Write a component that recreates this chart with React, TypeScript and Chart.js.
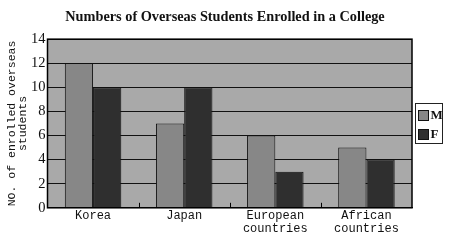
import React, { useEffect, useRef } from "react";
import { Chart, registerables } from "chart.js";

Chart.register(...registerables);

const categories: (string | string[])[] = ["Korea", "Japan", ["European", "countries"], ["African", "countries"]];
const maleValues = [12, 7, 6, 5];
const femaleValues = [10, 10, 3, 4];
const seriesNames = ["M", "F"];
const seriesColors = ["#878787", "#2f2f2f"];
const titleText = "Numbers of Overseas Students Enrolled in a College";
const yTitle = ["NO. of enrolled overseas", "students"];

const decorPlugin = {
  id: "decor",
  beforeDraw(chart: any) {
    const { ctx, chartArea } = chart;
    if (!chartArea) return;
    ctx.save();
    ctx.fillStyle = "#a9a9a9";
    ctx.fillRect(chartArea.left, chartArea.top, chartArea.right - chartArea.left, chartArea.bottom - chartArea.top);
    ctx.restore();
  },
  afterDraw(chart: any) {
    const { ctx, chartArea, scales } = chart;
    ctx.save();
    ctx.strokeStyle = "#000";
    ctx.lineWidth = 1.5;
    ctx.strokeRect(chartArea.left, chartArea.top, chartArea.right - chartArea.left, chartArea.bottom - chartArea.top);
    // small boundary tick marks on x axis
    const xs = scales.x;
    ctx.lineWidth = 1;
    for (let i = 0; i < categories.length - 1; i++) {
      const px = Math.round((xs.getPixelForValue(i) + xs.getPixelForValue(i + 1)) / 2) + 0.5;
      ctx.beginPath();
      ctx.moveTo(px, chartArea.bottom);
      ctx.lineTo(px, chartArea.bottom - 5);
      ctx.stroke();
    }
    // legend box
    const cy = (chartArea.top + chartArea.bottom) / 2;
    const bx = Math.round(chartArea.right + 3) + 0.5;
    const by = Math.round(cy - 20) + 0.5;
    ctx.strokeStyle = "#222";
    ctx.strokeRect(bx, by, 27, 40);
    ctx.font = "bold 13px 'Liberation Serif'";
    ctx.textBaseline = "middle";
    ctx.textAlign = "left";
    chart.data.datasets.forEach((ds: any, i: number) => {
      const sy = by + 7 + i * 19;
      ctx.fillStyle = ds.backgroundColor;
      ctx.fillRect(bx + 3, sy, 10, 10);
      ctx.strokeStyle = "#111";
      ctx.strokeRect(bx + 3, sy, 10, 10);
      ctx.fillStyle = "#111";
      ctx.fillText(ds.label, bx + 15, sy + 5.5);
    });
    ctx.restore();
  },
};

export default function App() {
  const ref = useRef<HTMLCanvasElement>(null);
  useEffect(() => {
    document.body.style.margin = "0";
    const chart = new Chart(ref.current!, {
      type: "bar",
      data: {
        labels: categories,
        datasets: [
          {
            label: seriesNames[0],
            data: maleValues,
            backgroundColor: seriesColors[0],
            borderColor: "#111",
            borderWidth: 1,
            categoryPercentage: 0.62,
            barPercentage: 1,
          },
          {
            label: seriesNames[1],
            data: femaleValues,
            backgroundColor: seriesColors[1],
            borderColor: "#111",
            borderWidth: 1,
            categoryPercentage: 0.62,
            barPercentage: 1,
          },
        ],
      },
      options: {
        responsive: false,
        animation: false,
        layout: { padding: { left: 6, right: 5, top: 0, bottom: 6 } },
        plugins: {
          title: {
            display: true,
            text: titleText,
            color: "#111",
            font: { family: "Liberation Serif", size: 14.3, weight: "bold" },
            padding: { top: 9, bottom: 13 },
          },
          legend: { display: false },
          tooltip: { enabled: false },
        },
        scales: {
          x: {
            grid: { display: false, drawTicks: false },
            border: { display: true, color: "#000" },
            ticks: {
              color: "#111",
              font: { family: "Liberation Mono", size: 12, lineHeight: 1.05 },
              maxRotation: 0,
              autoSkip: false,
              padding: 2,
            },
          },
          y: {
            min: 0,
            max: 14,
            ticks: {
              stepSize: 2,
              color: "#111",
              font: { family: "Liberation Serif", size: 14.5 },
              padding: 2,
            },
            grid: { color: "#111", lineWidth: 1, drawTicks: false },
            border: { display: true, color: "#000" },
            title: {
              display: true,
              text: yTitle,
              color: "#111",
              font: { family: "Liberation Mono", size: 11.5, lineHeight: 1.0 },
              padding: { top: 0, bottom: 0 },
            },
          },
          legendSpace: {
            position: "right",
            display: true,
            grid: { display: false, drawTicks: false },
            border: { display: false },
            ticks: { display: false },
            afterFit: (s: any) => {
              s.width = 32;
            },
          },
        },
      },
      plugins: [decorPlugin],
    });
    return () => chart.destroy();
  }, []);
  return (
    <canvas
      ref={ref}
      width={449}
      height={243}
      style={{ position: "absolute", left: 0, top: 0, width: 449, height: 243 }}
    />
  );
}
